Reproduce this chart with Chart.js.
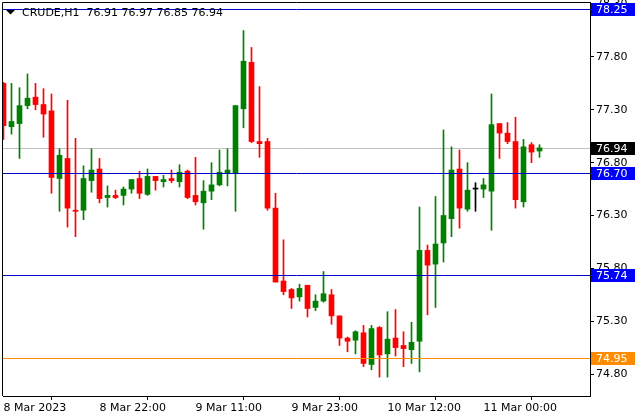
<!DOCTYPE html>
<html>
<head>
<meta charset="utf-8">
<script src="https://cdn.jsdelivr.net/npm/chart.js@4.4.0/dist/chart.umd.min.js"></script>
<style>
  html, body { margin: 0; padding: 0; background: #fff; }
  canvas { display: block; }
</style>
</head>
<body>
<canvas id="chart" width="640" height="420"></canvas>
<script>
var symbol = "CRUDE,H1";

// hourly candles, oldest first
var opens  = [77.55, 77.14, 77.17, 77.34, 77.42, 77.35, 77.29, 76.65, 76.84, 76.35,
              76.35, 76.63, 76.74, 76.47, 76.49, 76.49, 76.55, 76.65, 76.50, 76.67,
              76.62, 76.65, 76.62, 76.72, 76.49, 76.42, 76.53, 76.59, 76.70, 76.70,
              77.31, 77.75, 77.00, 77.00, 76.37, 75.68, 75.60, 75.53, 75.64, 75.43,
              75.49, 75.55, 75.35, 75.14, 75.12, 75.19, 74.89, 75.24, 74.99, 75.14,
              75.07, 75.03, 75.11, 75.97, 75.84, 76.04, 76.27, 76.74, 76.36, 76.55,
              76.55, 76.53, 77.17, 77.08, 77.00, 76.43, 76.97, 76.91];
var highs  = [77.56, 77.55, 77.51, 77.64, 77.55, 77.50, 77.45, 76.93, 77.39, 77.03,
              76.77, 76.93, 76.84, 76.58, 76.54, 76.57, 76.64, 76.72, 76.74, 76.67,
              76.68, 76.73, 76.78, 76.73, 76.85, 76.63, 76.80, 76.92, 76.93, 77.34,
              78.05, 77.89, 77.52, 77.03, 76.51, 76.07, 75.61, 75.65, 75.64, 75.55,
              75.77, 75.60, 75.35, 75.15, 75.21, 75.26, 75.26, 75.25, 75.39, 75.41,
              75.20, 75.29, 76.38, 76.02, 76.48, 77.11, 76.95, 76.92, 76.80, 76.61,
              76.65, 77.45, 77.17, 77.18, 77.23, 77.02, 76.99, 76.97];
var lows   = [77.02, 77.07, 76.84, 77.31, 77.30, 77.04, 76.51, 76.34, 76.19, 76.10,
              76.26, 76.52, 76.42, 76.38, 76.46, 76.40, 76.51, 76.46, 76.49, 76.54,
              76.57, 76.61, 76.57, 76.46, 76.40, 76.17, 76.45, 76.58, 76.58, 76.34,
              77.13, 76.99, 76.85, 76.35, 75.67, 75.55, 75.42, 75.49, 75.34, 75.40,
              75.48, 75.27, 75.07, 75.01, 74.99, 74.87, 74.84, 74.77, 74.77, 74.97,
              74.87, 74.90, 74.82, 75.36, 75.43, 75.86, 76.10, 76.18, 76.34, 76.34,
              76.47, 76.16, 76.84, 76.98, 76.37, 76.38, 76.80, 76.85];
var closes = [77.15, 77.19, 77.34, 77.41, 77.35, 77.26, 76.66, 76.87, 76.37, 76.34,
              76.65, 76.73, 76.46, 76.49, 76.47, 76.55, 76.64, 76.51, 76.67, 76.63,
              76.64, 76.63, 76.71, 76.47, 76.43, 76.53, 76.59, 76.71, 76.73, 77.34,
              77.76, 77.00, 76.98, 76.37, 75.67, 75.58, 75.52, 75.61, 75.42, 75.49,
              75.56, 75.35, 75.14, 75.11, 75.20, 74.90, 75.23, 74.98, 75.13, 75.05,
              75.04, 75.10, 75.97, 75.83, 76.03, 76.30, 76.73, 76.37, 76.54, 76.55,
              76.59, 77.16, 77.08, 77.00, 76.45, 76.95, 76.90, 76.94];

var xTickIndex  = [0, 12, 24, 36, 48, 60];
var xTickLabels = ["8 Mar 2023", "8 Mar 22:00", "9 Mar 11:00", "9 Mar 23:00", "10 Mar 12:00", "11 Mar 00:00"];
var yTicks = [74.80, 75.30, 75.80, 76.30, 76.80, 77.30, 77.80, 78.30];
var levels = [78.25, 76.70, 75.74, 74.95];
var levelColors = ["#0000ff", "#0000ff", "#0000ff", "#ff8c00"];

var n = opens.length;
var bid = closes[n - 1];

var bodies = [], wicks = [], colors = [];
for (var i = 0; i < n; i++) {
  bodies.push({ x: i, y: [opens[i], closes[i]] });
  wicks.push({ x: i, y: [lows[i], highs[i]] });
  colors.push(closes[i] > opens[i] ? "#008000" : (closes[i] < opens[i] ? "#ff0000" : "#000000"));
}

Chart.defaults.font.family = "'DejaVu Sans', sans-serif";
Chart.defaults.font.size = 11;
Chart.defaults.color = "#000";

function fixSize(w, h) {
  return function(scale) {
    if (w) scale.width = w;
    if (h) scale.height = h;
    scale.paddingTop = 0; scale.paddingBottom = 0;
    scale.paddingLeft = 0; scale.paddingRight = 0;
  };
}

var overlay = {
  id: "overlay",
  beforeDatasetsDraw: function(chart) {
    var ctx = chart.ctx, a = chart.chartArea;
    var py = Math.round(chart.scales.y.getPixelForValue(bid)) + 0.5;
    ctx.save();
    ctx.strokeStyle = "#c0c0c0";
    ctx.lineWidth = 1;
    ctx.beginPath();
    ctx.moveTo(a.left, py);
    ctx.lineTo(a.right, py);
    ctx.stroke();
    ctx.restore();
  },
  afterDatasetsDraw: function(chart) {
    var ctx = chart.ctx, a = chart.chartArea, ys = chart.scales.y;
    ctx.save();
    ctx.lineWidth = 1;
    levels.forEach(function(v, i) {
      var py = Math.round(ys.getPixelForValue(v)) + 0.5;
      ctx.strokeStyle = i < 3 ? "#0000cc" : levelColors[i];
      ctx.beginPath();
      ctx.moveTo(a.left, py);
      ctx.lineTo(a.right, py);
      ctx.stroke();
    });
    ctx.restore();
  },
  afterDraw: function(chart) {
    var ctx = chart.ctx, a = chart.chartArea, ys = chart.scales.y;
    ctx.save();
    // frame left and top
    ctx.strokeStyle = "#000";
    ctx.lineWidth = 1;
    ctx.beginPath();
    ctx.moveTo(2.5, a.bottom);
    ctx.lineTo(2.5, 2.5);
    ctx.lineTo(a.right, 2.5);
    ctx.stroke();

    ctx.font = "11px 'DejaVu Sans'";
    ctx.textBaseline = "middle";
    ctx.textAlign = "left";
    function tag(v, bg) {
      var py = Math.round(ys.getPixelForValue(v));
      ctx.fillStyle = bg;
      ctx.fillRect(a.right + 1, py - 6, 44, 13);
      ctx.fillStyle = "#fff";
      ctx.fillText(v.toFixed(2), a.right + 6, py + 1);
    }
    levels.forEach(function(v, i) { tag(v, levelColors[i]); });
    tag(bid, "#000");

    // title
    ctx.fillStyle = "#000";
    ctx.beginPath();
    ctx.moveTo(6, 10);
    ctx.lineTo(15, 10);
    ctx.lineTo(10.5, 14.5);
    ctx.closePath();
    ctx.fill();
    var last = [opens[n - 1], highs[n - 1], lows[n - 1], closes[n - 1]].map(function(v) { return v.toFixed(2); });
    ctx.fillText(symbol + "  " + last.join(" "), 22, 13);
    ctx.restore();
  }
};

new Chart(document.getElementById("chart"), {
  type: "bar",
  data: {
    datasets: [
      { data: bodies, backgroundColor: colors, barThickness: 5, minBarLength: 1 },
      { data: wicks, backgroundColor: colors, barThickness: 1 }
    ]
  },
  options: {
    responsive: false,
    devicePixelRatio: 1,
    animation: false,
    events: [],
    layout: { padding: { left: 3, top: 2, right: 0, bottom: 0 } },
    datasets: { bar: { grouped: false, borderWidth: 0 } },
    plugins: { legend: { display: false }, tooltip: { enabled: false } },
    scales: {
      x: {
        type: "linear",
        offset: false,
        min: -0.0625,
        max: 73.3125,
        afterBuildTicks: function(scale) {
          scale.ticks = xTickIndex.map(function(v) { return { value: v }; });
        },
        afterFit: fixSize(0, 24),
        border: { color: "#000" },
        grid: { drawOnChartArea: false, color: "#000", tickLength: 4 },
        ticks: {
          autoSkip: false,
          maxRotation: 0,
          align: "start",
          padding: 2,
          callback: function(v, i) { return xTickLabels[i]; }
        }
      },
      y: {
        type: "linear",
        position: "right",
        min: 74.5918,
        max: 78.3205,
        afterBuildTicks: function(scale) {
          scale.ticks = yTicks.map(function(v) { return { value: v }; });
        },
        afterFit: fixSize(50, 0),
        border: { color: "#000" },
        grid: { drawOnChartArea: false, color: "#000", tickLength: 4 },
        ticks: {
          autoSkip: false,
          padding: 2,
          callback: function(v) { return v.toFixed(2); }
        }
      }
    }
  },
  plugins: [overlay]
});
</script>
</body>
</html>
